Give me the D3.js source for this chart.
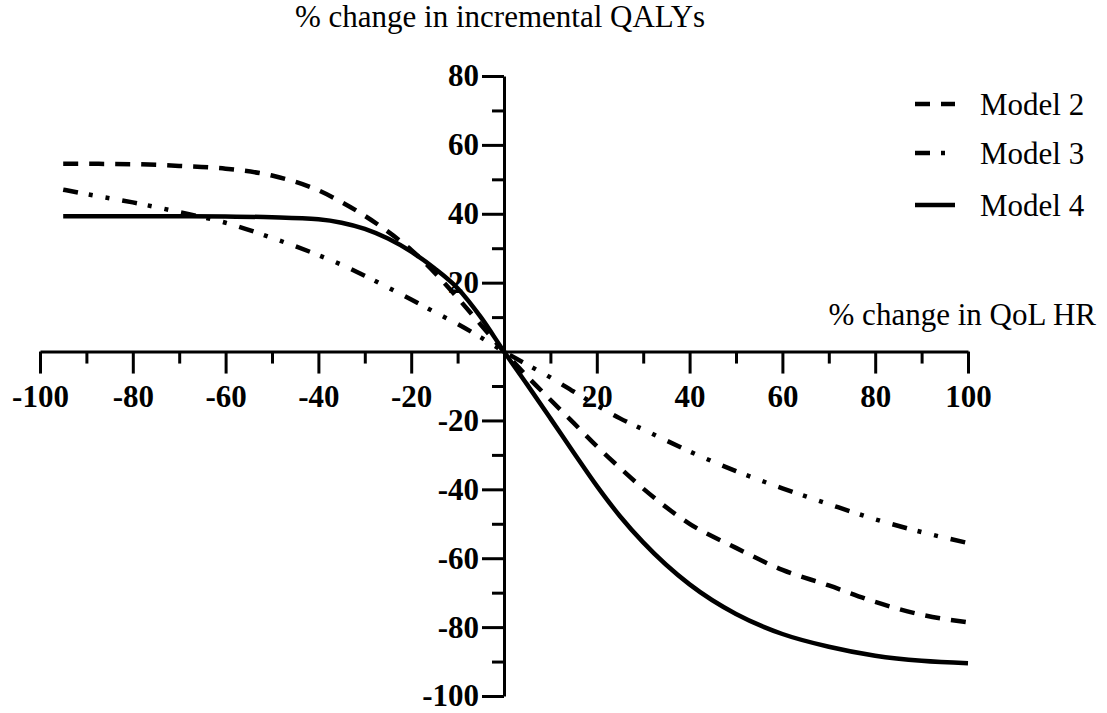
<!DOCTYPE html>
<html>
<head>
<meta charset="utf-8">
<script src="https://cdn.jsdelivr.net/npm/d3@7"></script>
<style>
  body { margin: 0; background: #fff; }
  svg text { font-family: "Liberation Serif", "Times New Roman", serif; }
  .tick text { font-weight: bold; }
</style>
</head>
<body>
<svg id="chart" width="1107" height="713"></svg>
<script>
// x positions (% change in QoL HR)
const hrChange = [-95, -90, -80, -70, -60, -50, -40, -35, -30, -25, -20, -15, -10, -5, 0,
  5, 10, 15, 20, 25, 30, 40, 50, 60, 70, 80, 90, 100];

// % change in incremental QALYs
const model2 = [54.5, 54.5, 54.4, 53.9, 53.1, 51.1, 46.8, 43.4, 39.4, 34.8, 29.5, 23.0, 15.6, 7.8, 0,
  -7.2, -14, -20.7, -27.5, -33.8, -39.8, -50, -57, -63.4, -67.9, -72.7, -76.4, -78.6];
const model3 = [47, 45.7, 43.3, 40.5, 37.4, 33, 28, 25.2, 22, 18.6, 15.1, 11.5, 8, 4.1, 0,
  -3.8, -7.5, -11.6, -15.6, -19.4, -22.6, -29, -34.7, -39.7, -44.3, -48.7, -52.4, -55.6];
const model4 = [39.3, 39.3, 39.3, 39.3, 39.2, 39.0, 38.4, 37.4, 35.6, 32.8, 29.0, 24.2, 18.4, 10.0, 0,
  -9.6, -19.4, -29.3, -39, -47.8, -55.4, -67.6, -76.2, -82, -85.7, -88.3, -89.8, -90.5];

const seriesNames = ["Model 2", "Model 3", "Model 4"];
const seriesData = [model2, model3, model4];
const dashes = ["15,11", "15,11,4,13,4,13", null];

const xMajor = [-100, -80, -60, -40, -20, 20, 40, 60, 80, 100];
const xMinor = [-90, -70, -50, -30, -10, 10, 30, 50, 70, 90];
const yMajor = [80, 60, 40, 20, -20, -40, -60, -80, -100];
const yMinor = [70, 50, 30, 10, -10, -30, -50, -70, -90];

const svg = d3.select("#chart");

const x = d3.scaleLinear().domain([-100, 100]).range([40, 968]);
const y = d3.scaleLinear().domain([-100, 80]).range([696, 76]);

const fontSize = 31;
const fmt = d => String(d); // plain hyphen, as in the original

// x axis through y = 0
const xAxisG = svg.append("g").attr("transform", `translate(0,${y(0)})`);
xAxisG.append("g")
  .call(d3.axisBottom(x).tickValues(xMinor).tickSize(12).tickFormat(""))
  .call(g => g.select(".domain").remove());
xAxisG.append("g")
  .call(d3.axisBottom(x).tickValues(xMajor).tickSize(22).tickSizeOuter(0).tickPadding(11).tickFormat(fmt));

// y axis through x = 0
const yAxisG = svg.append("g").attr("transform", `translate(${x(0)},0)`);
yAxisG.append("g")
  .call(d3.axisLeft(y).tickValues(yMinor).tickSize(12).tickFormat(""))
  .call(g => g.select(".domain").remove());
yAxisG.append("g")
  .call(d3.axisLeft(y).tickValues(yMajor).tickSize(22).tickSizeOuter(0).tickPadding(3).tickFormat(fmt));

svg.selectAll(".domain, .tick line")
  .attr("stroke", "#000")
  .attr("stroke-width", 3);
svg.selectAll(".tick text")
  .attr("fill", "#000")
  .style("font-size", fontSize + "px");

// curves
const line = d3.line()
  .x((d, i) => x(hrChange[i]))
  .y(d => y(d))
  .curve(d3.curveMonotoneX);

seriesData.forEach((vals, k) => {
  svg.append("path")
    .datum(vals)
    .attr("fill", "none")
    .attr("stroke", "#000")
    .attr("stroke-width", 4.5)
    .attr("stroke-dasharray", dashes[k])
    .attr("d", line);
});

// axis titles
svg.append("text")
  .attr("x", 295).attr("y", 27)
  .style("font-size", fontSize + "px")
  .text("% change in incremental QALYs");

svg.append("text")
  .attr("x", 1096).attr("y", 325)
  .attr("text-anchor", "end")
  .style("font-size", fontSize + "px")
  .text("% change in QoL HR");

// legend
const legendY = [104, 153, 205];
const legend = svg.append("g");
seriesNames.forEach((name, k) => {
  legend.append("line")
    .attr("x1", 915).attr("x2", 955)
    .attr("y1", legendY[k]).attr("y2", legendY[k])
    .attr("stroke", "#000")
    .attr("stroke-width", 4.5)
    .attr("stroke-dasharray", dashes[k]);
  legend.append("text")
    .attr("x", 980).attr("y", legendY[k])
    .attr("dy", "0.35em")
    .style("font-size", fontSize + "px")
    .text(name);
});
</script>
</body>
</html>
